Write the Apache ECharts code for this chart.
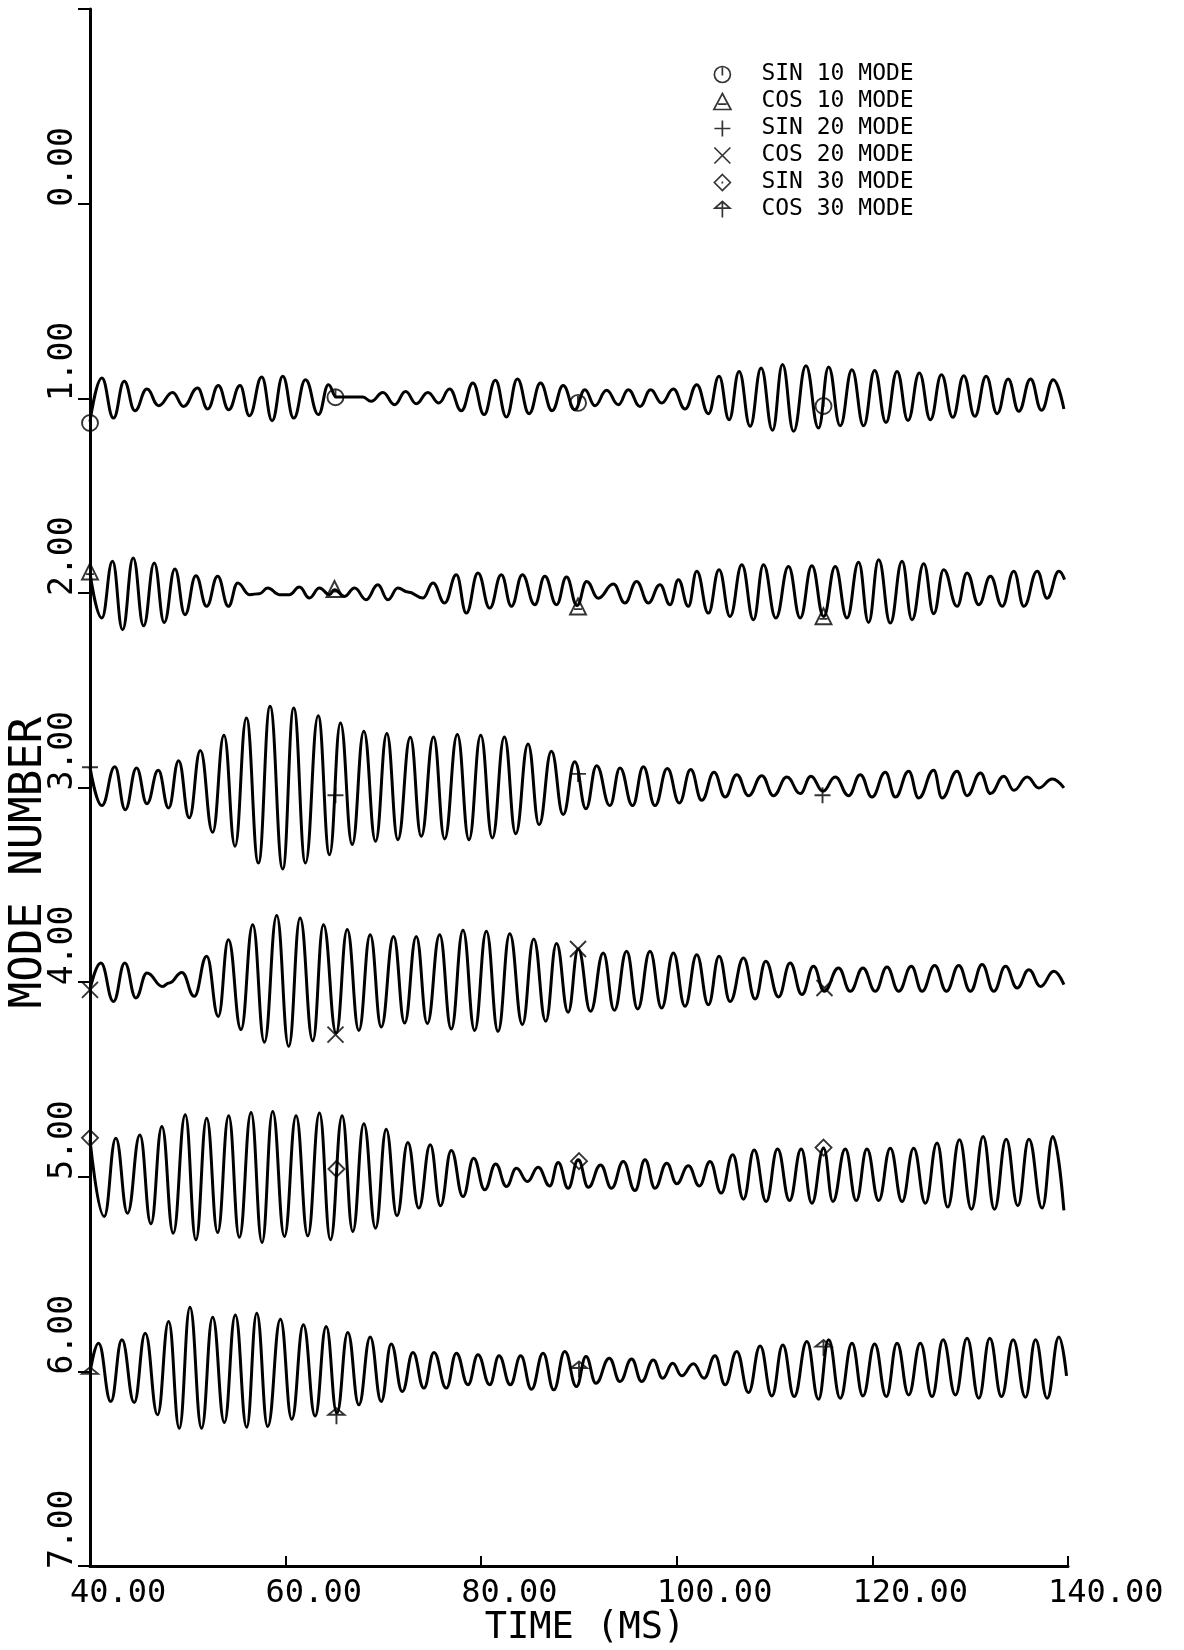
<!DOCTYPE html>
<html>
<head>
<meta charset="utf-8">
<script src="https://cdn.jsdelivr.net/npm/echarts@6/dist/echarts.min.js"></script>
<style>
html,body{margin:0;padding:0;background:#fff;}
#chart{width:1184px;height:1650px;}
</style>
</head>
<body>
<div id="chart"></div>
<script>
// ---- data (time in ms, mode-number axis value) ----
const seriesNames = ['SIN 10 MODE','COS 10 MODE','SIN 20 MODE','COS 20 MODE','SIN 30 MODE','COS 30 MODE'];

const sin10 = [[40.0,1.12],[41.21,0.896],[42.40,1.102],[43.50,0.913],[44.59,1.064],[45.82,0.953],[47.01,1.038],[48.45,0.970],[49.57,1.042],[51.00,0.947],[52.03,1.055],[53.12,0.935],[54.18,1.059],[55.34,0.935],[56.30,1.090],[57.56,0.891],[58.62,1.115],[59.71,0.887],[60.83,1.102],[62.03,0.905],[63.36,1.084],[64.38,0.930],[65.17,0.994],[66.19,0.994],[67.90,0.994],[68.75,1.016],[69.95,0.970],[71.14,1.033],[72.27,0.965],[73.36,1.028],[74.55,0.970],[75.68,1.024],[76.77,0.953],[77.97,1.064],[79.16,0.922],[80.29,1.084],[81.45,0.908],[82.58,1.096],[83.70,0.901],[84.90,1.079],[86.06,0.922],[87.25,1.064],[88.38,0.935],[89.57,1.059],
[90.60,0.956],[91.63,1.038],[92.82,0.959],[94.02,1.033],[95.04,0.956],[96.24,1.042],[97.33,0.956],[98.45,1.024],[99.65,0.953],[100.84,1.055],[102.04,0.930],[103.23,1.079],[104.32,0.887],[105.35,1.110],[106.37,0.862],[107.50,1.144],[108.62,0.845],[109.79,1.165],[110.81,0.827],[111.94,1.170],[113.20,0.833],[114.49,1.153],[115.52,0.839],[116.71,1.141],[117.91,0.853],[119.10,1.141],[120.23,0.857],[121.39,1.124],[122.52,0.862],[123.64,1.114],[124.80,0.870],[125.93,1.110],[127.06,0.879],[128.22,1.098],[129.34,0.884],[130.47,1.093],[131.63,0.887],[132.76,1.079],[133.88,0.901],[134.97,1.067],[136.17,0.901],[137.29,1.062],[138.49,0.905],[139.58,1.055]];

const cos10 = [[40.0,1.898],[41.21,2.129],[42.30,1.838],[43.33,2.189],[44.42,1.821],[45.48,2.169],[46.57,1.847],[47.59,2.152],[48.68,1.877],[49.71,2.112],[50.83,1.912],[51.93,2.069],[53.05,1.915],[54.15,2.069],[55.10,1.949],[56.30,2.009],[57.32,2.004],[58.17,1.975],[59.37,2.009],[60.39,2.009],[61.41,1.970],[62.43,2.026],[63.46,1.975],[64.48,2.009],[65.00,1.984],[66.02,2.018],[67.05,1.975],[68.24,2.035],[69.43,1.958],[70.46,2.035],[71.48,1.975],[72.51,1.996],[74.04,2.026],[75.07,1.949],[76.26,2.052],[77.46,1.907],[78.48,2.104],[79.67,1.898],[80.87,2.078],[82.06,1.907],[83.09,2.069],[84.21,1.907],[85.48,2.061],[86.50,1.915],[87.70,2.061],[88.72,1.919],[89.80,2.065],
[90.78,1.941],[91.97,2.027],[93.51,1.955],[94.70,2.052],[95.89,1.941],[97.09,2.052],[98.28,1.958],[99.31,2.061],[100.16,1.932],[101.18,2.069],[102.04,1.889],[103.23,2.104],[104.32,1.881],[105.45,2.121],[106.65,1.855],[107.84,2.138],[108.86,1.855],[110.13,2.129],[111.42,1.864],[112.62,2.129],[113.81,1.860],[115.01,2.121],[116.20,1.864],[117.40,2.129],[118.59,1.843],[119.61,2.152],[120.64,1.830],[121.83,2.155],[123.03,1.838],[124.05,2.138],[125.25,1.850],[126.27,2.107],[127.29,1.881],[128.66,2.069],[129.68,1.898],[130.88,2.061],[132.07,1.915],[133.27,2.069],[134.46,1.889],[135.49,2.069],[136.85,1.889],[137.87,2.027],[139.07,1.889],[139.65,1.932]];

const sin20 = [[40.0,2.896],[41.21,3.093],[42.54,2.894],[43.60,3.114],[44.76,2.900],[45.82,3.083],[46.98,2.912],[48.04,3.105],[49.06,2.862],[50.15,3.156],[51.28,2.810],[52.54,3.230],[53.70,2.732],[54.83,3.302],[55.99,2.643],[57.22,3.388],[58.41,2.583],[59.71,3.419],[60.83,2.591],[62.03,3.388],[63.33,2.631],[64.49,3.345],[65.61,2.668],[66.81,3.293],[68.00,2.711],[69.20,3.276],[70.35,2.723],[71.48,3.268],[72.75,2.742],[73.87,3.251],[75.13,2.740],[76.26,3.264],[77.56,2.728],[78.75,3.268],[79.95,2.732],[81.14,3.259],[82.37,2.740],[83.53,3.237],[84.79,2.776],[85.92,3.191],[87.18,2.814],[88.38,3.139],[89.57,2.868],
[90.71,3.109],[91.80,2.888],[93.16,3.093],[94.19,2.900],[95.48,3.093],[96.58,2.894],[97.77,3.093],[99.03,2.903],[100.26,3.079],[101.42,2.908],[102.55,3.066],[103.81,2.922],[104.94,3.049],[106.13,2.934],[107.33,3.042],[108.69,2.939],[109.89,3.042],[111.25,2.946],[112.62,3.031],[113.71,2.942],[114.94,3.019],[116.20,2.946],[117.57,3.042],[118.76,2.934],[119.96,3.049],[121.32,2.922],[122.35,3.049],[123.71,2.917],[124.73,3.054],[126.27,2.912],[127.12,3.054],[128.66,2.917],[129.68,3.042],[131.05,2.925],[132.07,3.031],[133.44,2.942],[134.46,3.014],[135.83,2.946],[137.02,3.002],[138.39,2.956],[139.58,3.002]];

const cos20 = [[40.0,4.039],[41.11,3.902],[42.40,4.099],[43.56,3.902],[44.69,4.081],[45.82,3.953],[47.42,4.022],[48.10,4.004],[49.40,3.950],[50.66,4.073],[51.93,3.867],[53.12,4.176],[54.15,3.782],[55.44,4.244],[56.64,3.705],[57.83,4.309],[59.09,3.658],[60.32,4.330],[61.48,3.670],[62.78,4.301],[63.87,3.705],[65.17,4.261],[66.30,3.730],[67.49,4.248],[68.65,3.756],[69.78,4.230],[71.04,3.765],[72.17,4.210],[73.36,3.765],[74.49,4.213],[75.75,3.756],[76.94,4.241],[78.14,3.734],[79.33,4.248],[80.53,3.739],[81.72,4.253],[82.92,3.751],[84.21,4.218],[85.37,3.778],[86.60,4.201],[87.70,3.802],[88.89,4.155],
[89.92,3.830],[91.18,4.150],[92.48,3.850],[93.61,4.145],[94.87,3.842],[96.00,4.138],[97.26,3.842],[98.45,4.133],[99.65,3.850],[100.84,4.124],[102.04,3.859],[103.23,4.116],[104.32,3.867],[105.45,4.099],[106.82,3.876],[108.01,4.087],[109.10,3.893],[110.40,4.076],[111.59,3.902],[112.79,4.064],[113.98,3.919],[115.08,4.047],[116.54,3.927],[117.74,4.047],[119.03,3.927],[120.30,4.047],[121.49,3.922],[122.69,4.047],[123.98,3.919],[125.08,4.047],[126.37,3.915],[127.57,4.047],[128.83,3.915],[130.02,4.047],[131.22,3.910],[132.41,4.047],[133.61,3.919],[134.80,4.030],[136.00,3.936],[137.19,4.022],[138.56,3.944],[139.58,4.013]];

const sin30 = [[40.0,4.810],[41.45,5.204],[42.64,4.802],[43.84,5.187],[45.10,4.785],[46.23,5.242],[47.35,4.742],[48.51,5.290],[49.74,4.682],[50.83,5.324],[51.93,4.699],[53.05,5.287],[54.18,4.687],[55.27,5.311],[56.47,4.670],[57.59,5.338],[58.68,4.665],[59.88,5.307],[61.07,4.687],[62.27,5.304],[63.46,4.673],[64.59,5.324],[65.78,4.687],[66.87,5.281],[68.00,4.728],[69.20,5.264],[70.29,4.756],[71.39,5.201],[72.50,4.824],[73.62,5.161],[74.79,4.836],[75.84,5.149],[76.94,4.865],[78.14,5.102],[79.23,4.905],[80.36,5.067],[81.48,4.934],[82.58,5.050],[83.60,4.956],[84.73,5.024],[85.82,4.951],[87.01,5.047],[87.87,4.927],[88.89,5.059],
[89.92,4.913],[90.95,5.054],[92.21,4.939],[93.33,5.059],[94.53,4.922],[95.72,5.071],[96.75,4.913],[97.77,5.059],[98.97,4.930],[99.99,5.036],[101.18,4.944],[102.31,5.047],[103.40,4.922],[104.53,5.084],[105.72,4.887],[106.82,5.115],[107.91,4.862],[109.14,5.127],[110.30,4.858],[111.53,5.122],[112.72,4.858],[113.81,5.136],[115.01,4.853],[115.96,5.127],[117.23,4.858],[118.35,5.122],[119.44,4.858],[120.64,5.122],[121.83,4.853],[123.03,5.127],[124.22,4.853],[125.42,5.136],[126.61,4.827],[127.70,5.156],[128.90,4.810],[130.13,5.167],[131.32,4.793],[132.48,5.167],[133.68,4.807],[134.87,5.149],[136.00,4.807],[137.36,5.161],[138.45,4.793],[139.58,5.173]];

const cos30 = [[40.0,6.009],[40.87,5.855],[42.13,6.155],[43.26,5.838],[44.52,6.160],[45.65,5.804],[46.91,6.223],[48.04,5.744],[49.13,6.292],[50.22,5.670],[51.41,6.292],[52.54,5.722],[53.74,6.263],[54.86,5.710],[56.02,6.287],[57.05,5.701],[58.17,6.283],[59.47,5.732],[60.63,6.246],[61.82,5.761],[63.02,6.229],[64.15,5.770],[65.24,6.215],[66.36,5.800],[67.49,6.172],[68.65,5.824],[69.78,6.155],[70.80,5.859],[71.93,6.104],[73.02,5.903],[74.14,6.086],[75.17,5.903],[76.43,6.086],[77.46,5.907],[78.65,6.069],[79.67,5.915],[80.87,6.069],[81.82,5.920],[82.98,6.069],[84.04,5.920],[85.14,6.092],[86.33,5.907],[87.42,6.095],[88.55,5.898],[89.74,6.078],
[90.71,5.924],[91.73,6.061],[93.10,5.932],[94.19,6.052],[95.38,5.937],[96.41,6.052],[97.60,5.941],[98.56,6.035],[99.58,5.958],[100.50,6.023],[101.70,5.961],[102.79,6.035],[103.91,5.920],[104.94,6.069],[106.13,5.898],[107.33,6.109],[108.52,5.869],[109.72,6.126],[110.84,5.864],[112.00,6.129],[113.30,5.847],[114.49,6.143],[115.52,5.838],[116.71,6.138],[117.91,5.855],[119.03,6.126],[120.23,5.859],[121.42,6.129],[122.52,5.855],[123.71,6.121],[124.90,5.855],[126.10,6.129],[127.23,5.838],[128.49,6.121],[129.68,5.830],[130.88,6.138],[132.00,5.830],[133.20,6.129],[134.39,5.838],[135.65,6.133],[136.68,5.838],[137.87,6.138],[139.07,5.824],[139.85,6.023]];

// plotted symbols on each trace
const sin10Marks = [[40.0,1.127],[65.1,0.995],[89.9,1.024],[115.0,1.04]];
const cos10Marks = [[40.0,1.89],[65.0,1.98],[89.9,2.07],[115.0,2.12]];
const sin20Marks = [[40.0,2.896],[65.1,3.04],[89.9,2.93],[114.9,3.04]];
const cos20Marks = [[40.0,4.04],[65.1,4.27],[89.9,3.83],[115.1,4.03]];
const sin30Marks = [[40.0,4.80],[65.2,4.96],[90.0,4.92],[115.0,4.85]];
const cos30Marks = [[40.0,6.02],[65.2,6.23],[90.0,5.99],[115.0,5.88]];

const xTicks = [40, 60, 80, 100, 120, 140];
const yTicks = [0, 1, 2, 3, 4, 5, 6, 7];

// ---- presentation ----
const FONT = "'DejaVu Sans Mono','Liberation Mono',monospace";
const traces = [sin10, cos10, sin20, cos20, sin30, cos30];
const marks = [sin10Marks, cos10Marks, sin20Marks, cos20Marks, sin30Marks, cos30Marks];
const icons = [
  'path://M2,10 A8,8 0 1,0 18,10 A8,8 0 1,0 2,10 Z M10,3 L10,11',
  'path://M10,2 L18,17 L2,17 Z M6,12 L14,12',
  'path://M10,1 L10,19 M1,10 L19,10',
  'path://M2,2 L18,18 M18,2 L2,18',
  'path://M10,2 L18,10 L10,18 L2,10 Z M10,9 L10,11',
  'path://M2,9 L10,2 L18,9 Z M10,2 L10,19'
];
const markStyle = {color: 'rgba(0,0,0,0)', borderColor: '#000', borderWidth: 1.9};

const series = [];
traces.forEach((d, i) => {
  series.push({
    name: seriesNames[i] + ' trace', type: 'line', data: d,
    showSymbol: false, smooth: 0.45, smoothMonotone: 'x',
    lineStyle: {color: '#000', width: 3}, silent: true, animation: false, z: 2
  });
});
marks.forEach((d, i) => {
  series.push({
    name: seriesNames[i], type: 'scatter', data: d,
    symbol: icons[i], symbolSize: 16, itemStyle: markStyle,
    silent: true, animation: false, z: 3
  });
});

const chart = echarts.init(document.getElementById('chart'), null, {renderer: 'canvas'});
chart.setOption({
  backgroundColor: '#fff',
  animation: false,
  grid: {left: 90, right: 116, top: 9, bottom: 84, containLabel: false, outerBoundsMode: 'none'},
  legend: {
    orient: 'vertical', left: 708, top: 58,
    itemWidth: 68, itemHeight: 16, itemGap: 4, symbolKeepAspect: true,
    selectedMode: false,
    textStyle: {fontFamily: FONT, fontSize: 23, color: '#000', lineHeight: 21},
    data: seriesNames.map((n, i) => ({name: n, icon: icons[i],
      itemStyle: {color: 'rgba(0,0,0,0)', borderColor: '#000', borderWidth: 1.7}}))
  },
  xAxis: {
    type: 'value', min: 40, max: 140, interval: 20,
    name: 'TIME (MS)', nameLocation: 'middle', nameGap: 44, nameMoveOverlap: false,
    nameTextStyle: {fontFamily: FONT, fontSize: 37, color: '#000', padding: [0, 0, 0, 12]},
    axisLine: {show: true, onZero: false, lineStyle: {color: '#000', width: 3}},
    axisTick: {show: true, inside: true, length: 10, lineStyle: {color: '#000', width: 2}},
    axisLabel: {
      fontFamily: FONT, fontSize: 32, color: '#000', margin: 12, align: 'left',
      padding: [0, 0, 0, -20], hideOverlap: false,
      formatter: v => xTicks.indexOf(v) >= 0 ? v.toFixed(2) : ''
    },
    splitLine: {show: false}
  },
  yAxis: {
    type: 'value', min: -1, max: 7, interval: 1, inverse: true,
    name: 'MODE NUMBER', nameLocation: 'middle', nameRotate: 90, nameGap: 38, nameMoveOverlap: false,
    nameTextStyle: {fontFamily: FONT, fontSize: 44, color: '#000', padding: [0, 150, 0, 0]},
    axisLine: {show: true, onZero: false, lineStyle: {color: '#000', width: 3}},
    axisTick: {show: true, inside: false, length: 12, lineStyle: {color: '#000', width: 2}},
    axisLabel: {
      fontFamily: FONT, fontSize: 33, color: '#000', margin: 10, rotate: 90, align: 'left',
      padding: [0, 0, 0, -3], hideOverlap: false,
      formatter: v => yTicks.indexOf(v) >= 0 ? v.toFixed(2) : ''
    },
    splitLine: {show: false}
  },
  series: series
});
</script>
</body>
</html>
